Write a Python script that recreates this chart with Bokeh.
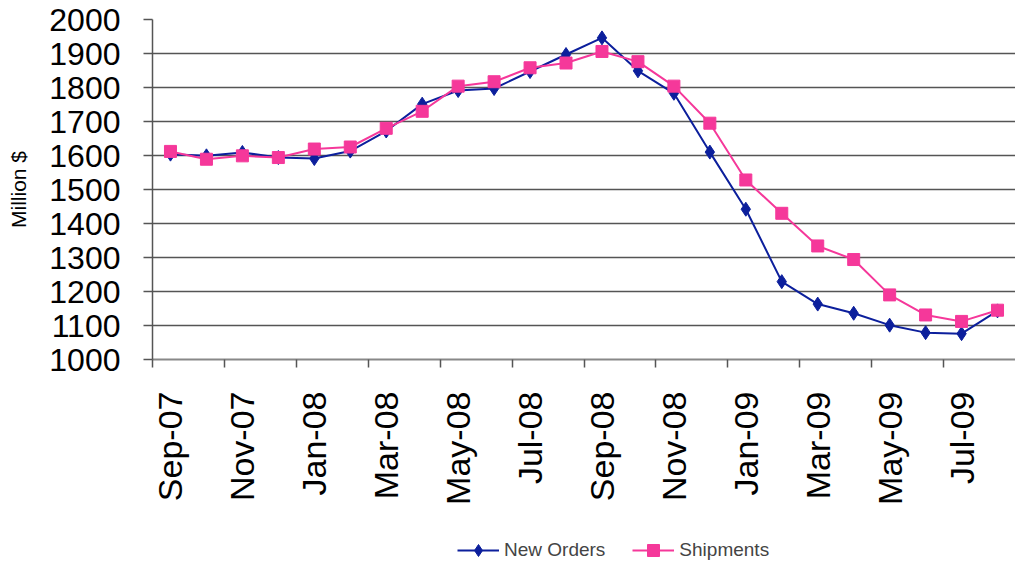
import math
from bokeh.plotting import figure
from bokeh.layouts import column
from bokeh.models import (ColumnDataSource, FixedTicker, Legend, LegendItem, Range1d)
from bokeh.embed import file_html
from bokeh.resources import INLINE

months = ["Sep-07", "Oct-07", "Nov-07", "Dec-07", "Jan-08", "Feb-08", "Mar-08", "Apr-08",
          "May-08", "Jun-08", "Jul-08", "Aug-08", "Sep-08", "Oct-08", "Nov-08", "Dec-08",
          "Jan-09", "Feb-09", "Mar-09", "Apr-09", "May-09", "Jun-09", "Jul-09", "Aug-09"]
new_orders = [1604, 1599, 1609, 1594, 1591, 1613, 1672, 1751, 1791, 1797, 1847, 1897,
              1946, 1849, 1783, 1610, 1442, 1229, 1163, 1136, 1101, 1079, 1076, 1143]
shipments = [1612, 1589, 1599, 1594, 1619, 1625, 1680, 1730, 1804, 1817, 1858, 1872,
             1906, 1876, 1804, 1695, 1528, 1430, 1334, 1294, 1190, 1131, 1112, 1145]
y_ticks = [1000, 1100, 1200, 1300, 1400, 1500, 1600, 1700, 1800, 1900, 2000]
series_names = ["New Orders", "Shipments"]

x = list(range(len(months)))
src = ColumnDataSource(dict(x=x, m=months, no=new_orders, sh=shipments))

BLUE = "#0c1f9c"
PINK = "#f5389a"
FONT = "Liberation Sans"

p = figure(width=1015, height=522, output_backend="svg", toolbar_location=None,
           x_range=Range1d(-0.5, len(months) - 0.5), y_range=Range1d(y_ticks[0], y_ticks[-1]),
           min_border_left=152, min_border_right=0, min_border_top=19, min_border_bottom=163)
p.outline_line_color = None
p.background_fill_color = "white"
p.border_fill_color = "white"

# x axis: labels at every other month, tick marks at category boundaries
lab_idx = x[::2]
xa = p.xaxis[0]
xa.ticker = FixedTicker(ticks=lab_idx, minor_ticks=[i - 0.5 for i in lab_idx])
xa.major_label_overrides = {i: months[i] for i in lab_idx}
xa.major_label_orientation = math.pi / 2
xa.major_label_text_font = FONT
xa.major_label_text_font_size = "34px"
xa.major_label_text_color = "black"
xa.major_tick_line_color = None
xa.major_tick_out = 8
xa.major_tick_in = 0
xa.major_label_standoff = 24
xa.minor_tick_line_color = "#555555"
xa.minor_tick_line_width = 1.5
xa.minor_tick_out = 8
xa.minor_tick_in = 0
xa.axis_line_color = "#888888"
xa.axis_line_width = 2

ya = p.yaxis[0]
ya.ticker = FixedTicker(ticks=y_ticks)
ya.major_label_text_font = FONT
ya.major_label_text_font_size = "32px"
ya.major_label_text_color = "black"
ya.major_label_standoff = 23
ya.major_tick_out = 9
ya.major_tick_in = 0
ya.major_tick_line_color = "#555555"
ya.major_tick_line_width = 1.5
ya.minor_tick_line_color = None
ya.axis_line_color = "#555555"
ya.axis_line_width = 1.5
ya.axis_label = "Million $"
ya.axis_label_text_font = FONT
ya.axis_label_text_font_size = "21px"
ya.axis_label_text_font_style = "normal"
ya.axis_label_text_color = "black"
ya.axis_label_standoff = 16

p.xgrid.grid_line_color = None
p.ygrid.ticker = FixedTicker(ticks=y_ticks[1:-1])
p.ygrid.grid_line_color = "#555555"
p.ygrid.grid_line_width = 1.5

p.line("x", "no", source=src, color=BLUE, line_width=2)
p.scatter("x", "no", source=src, marker="diamond", size=14, color=BLUE)
p.line("x", "sh", source=src, color=PINK, line_width=2)
p.scatter("x", "sh", source=src, marker="square", size=12, color=PINK)

# legend strip below the chart (same series; its ranges keep the marks out of view)
lg = figure(width=1015, height=45, output_backend="svg", toolbar_location=None,
            x_axis_location=None, y_axis_location=None,
            x_range=Range1d(-0.5, len(months) - 0.5), y_range=Range1d(0, 1),
            min_border_left=0, min_border_right=0, min_border_top=0, min_border_bottom=0)
lg.outline_line_color = None
lg.grid.grid_line_color = None
r1 = lg.line("x", "no", source=src, color=BLUE, line_width=2)
s1 = lg.scatter("x", "no", source=src, marker="diamond", size=14, color=BLUE)
r2 = lg.line("x", "sh", source=src, color=PINK, line_width=2)
s2 = lg.scatter("x", "sh", source=src, marker="square", size=12, color=PINK)

legend = Legend(items=[LegendItem(label=series_names[0], renderers=[r1, s1]),
                       LegendItem(label=series_names[1], renderers=[r2, s2])],
                orientation="horizontal", location=(305, 2),
                label_text_font=FONT, label_text_font_size="19px",
                glyph_width=42, glyph_height=30, label_standoff=5, spacing=27,
                padding=0, margin=0, border_line_color=None, background_fill_alpha=0)
lg.add_layout(legend, "center")

page = column(p, lg, spacing=0)
open("out.html", "w").write(file_html(page, INLINE))
